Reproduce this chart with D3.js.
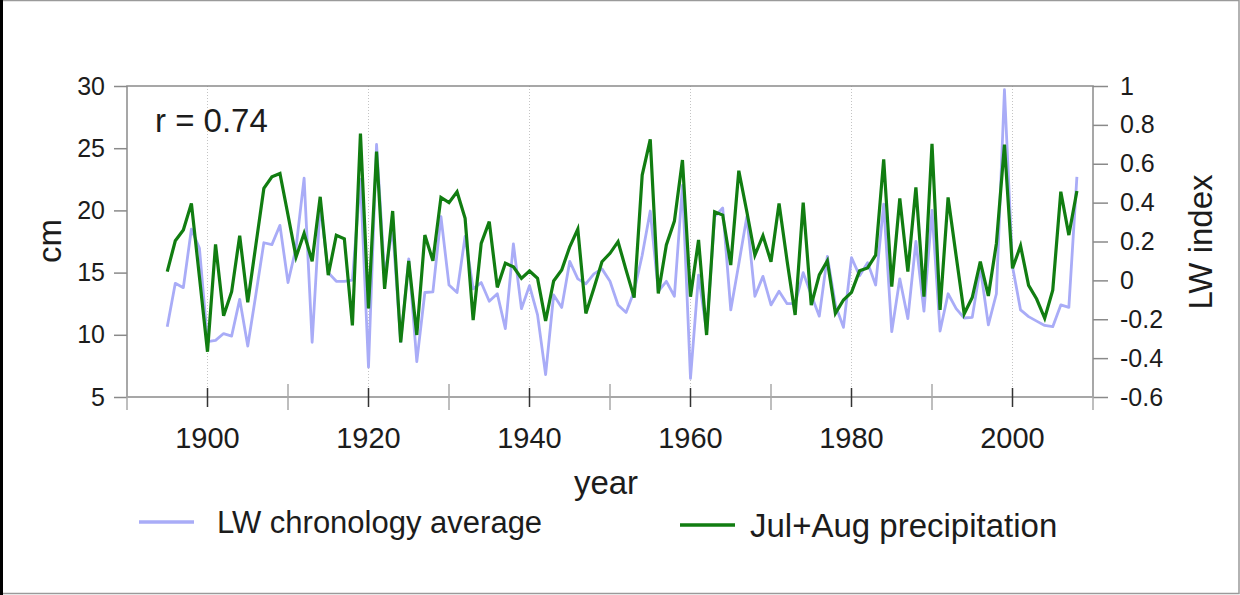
<!DOCTYPE html>
<html>
<head>
<meta charset="utf-8">
<script src="https://cdn.jsdelivr.net/npm/d3@7"></script>
<style>
  html, body { margin: 0; padding: 0; background: #fff; }
  svg { display: block; font-family: 'Liberation Sans', Arial, sans-serif; }
</style>
</head>
<body>
<svg id="chart" width="1240" height="595"></svg>
<script>
const years = d3.range(1895, 2009);

// LW chronology average (cm), 1895-2008
const lwAverage = [
  10.65, 14.14, 13.79, 18.5, 16.95, 9.45, 9.55, 10.1, 9.9, 12.85,
  9.1, 13.2, 17.4, 17.25, 18.8, 14.2, 17.0, 22.6, 9.4, 20.5,
  15.0, 14.3, 14.3, 14.4, 22.5, 7.4, 25.3, 14.8, 18.5, 9.45,
  16.1, 7.85, 13.4, 13.45, 19.5, 14.0, 13.4, 17.9, 13.7, 14.2,
  12.7, 13.3, 10.5, 17.3, 12.1, 13.95, 11.6, 6.8, 13.2, 12.2,
  15.9, 14.5, 14.1, 14.9, 15.3, 14.3, 12.4, 11.8, 13.5, 16.4,
  19.95, 13.5, 14.3, 13.1, 22.0, 6.5, 14.8, 10.25, 19.5, 20.2,
  12.0, 15.7, 19.5, 13.1, 14.7, 12.4, 13.5, 12.5, 12.5, 15.0,
  13.2, 11.5, 16.3, 12.4, 10.6, 16.2, 14.75, 15.8, 14.0, 20.5,
  10.25, 14.5, 11.3, 17.5, 11.9, 20.0, 10.3, 13.3, 12.1, 11.35,
  11.4, 15.4, 10.8, 13.3, 29.7, 15.5, 12.0, 11.46, 11.1, 10.75,
  10.65, 12.4, 12.2, 22.7
];

// Jul+Aug precipitation (right axis), 1895-2008
const precipitation = [
  0.045, 0.204, 0.259, 0.396, 0.017, -0.367, 0.185, -0.182, -0.058, 0.23,
  -0.113, 0.18, 0.473, 0.533, 0.55, 0.336, 0.12, 0.242, 0.098, 0.43,
  0.027, 0.232, 0.214, -0.232, 0.755, -0.144, 0.662, -0.044, 0.357, -0.319,
  0.1, -0.281, 0.233, 0.101, 0.427, 0.4, 0.456, 0.319, -0.204, 0.19,
  0.302, -0.036, 0.088, 0.07, 0.01, 0.048, 0.01, -0.209, -0.003, 0.053,
  0.173, 0.264, -0.17, -0.041, 0.096, 0.139, 0.199, 0.053, -0.089, 0.542,
  0.725, -0.067, 0.182, 0.305, 0.619, -0.084, 0.208, -0.281, 0.353, 0.336,
  0.079, 0.564, 0.353, 0.13, 0.23, 0.096, 0.396, 0.1, -0.178, 0.4,
  -0.127, 0.028, 0.101, -0.17, -0.101, -0.062, 0.049, 0.064, 0.13, 0.623,
  -0.032, 0.422, 0.045, 0.478, -0.084, 0.703, -0.152, 0.427, 0.125, -0.172,
  -0.088, 0.096, -0.08, 0.19, 0.698, 0.062, 0.178, -0.026, -0.096, -0.195,
  -0.05, 0.456, 0.233, 0.46
];

const leftTicks = [5, 10, 15, 20, 25, 30];
const rightTicks = [-0.6, -0.4, -0.2, 0, 0.2, 0.4, 0.6, 0.8, 1];
const majorYears = [1900, 1920, 1940, 1960, 1980, 2000];
const minorYears = [1890, 1910, 1930, 1950, 1970, 1990, 2010];

const blue = '#a9acf7';
const green = '#117d11';
const axisGray = '#8a8a8a';
const textColor = '#1c1c1c';

const svg = d3.select('#chart');

// picture frame
svg.append('rect').attr('x', 0).attr('y', 0).attr('width', 1240).attr('height', 595).attr('fill', '#fff');
svg.append('rect').attr('x', 0.5).attr('y', 0.5).attr('width', 1238.5).attr('height', 593)
  .attr('fill', 'none').attr('stroke', '#9a9a9a').attr('stroke-width', 1.5);
svg.append('rect').attr('x', 0).attr('y', 0).attr('width', 3).attr('height', 595).attr('fill', '#000');

const x = d3.scaleLinear().domain([1890, 2010]).range([127, 1093]);
const yLeft = d3.scaleLinear().domain([5, 30]).range([397, 86]);
const yRight = d3.scaleLinear().domain([-0.6, 1]).range([397, 86]);

// dotted grid at the labelled years
svg.append('g')
  .selectAll('line')
  .data(majorYears)
  .join('line')
  .attr('x1', d => x(d)).attr('x2', d => x(d))
  .attr('y1', yLeft(30)).attr('y2', yLeft(5))
  .attr('stroke', '#c4c4c4')
  .attr('stroke-width', 1)
  .attr('stroke-dasharray', '1,2');

// lines
const lwLine = d3.line().x((d, i) => x(years[i])).y(d => yLeft(d));
const prLine = d3.line().x((d, i) => x(years[i])).y(d => yRight(d));

svg.append('path')
  .datum(lwAverage)
  .attr('d', lwLine)
  .attr('fill', 'none')
  .attr('stroke', blue)
  .attr('stroke-width', 2.8)
  .attr('stroke-linejoin', 'round');

svg.append('path')
  .datum(precipitation)
  .attr('d', prLine)
  .attr('fill', 'none')
  .attr('stroke', green)
  .attr('stroke-width', 3.2)
  .attr('stroke-linejoin', 'miter');

// axis box
svg.append('rect')
  .attr('x', x(1890)).attr('y', yLeft(30))
  .attr('width', x(2010) - x(1890)).attr('height', yLeft(5) - yLeft(30))
  .attr('fill', 'none')
  .attr('stroke', axisGray)
  .attr('stroke-width', 1.5);

// left axis
svg.append('g')
  .attr('transform', `translate(${x(1890)},0)`)
  .call(d3.axisLeft(yLeft).tickValues(leftTicks).tickSize(13).tickPadding(9).tickFormat(d3.format('d')))
  .call(g => g.select('.domain').remove())
  .call(g => g.selectAll('.tick line').attr('stroke', axisGray).attr('stroke-width', 1.5))
  .call(g => g.selectAll('.tick text').attr('fill', textColor).style('font-size', '25px')
    .style('font-family', "'Liberation Sans', Arial, sans-serif"));

// right axis
svg.append('g')
  .attr('transform', `translate(${x(2010)},0)`)
  .call(d3.axisRight(yRight).tickValues(rightTicks).tickSize(15).tickPadding(12)
    .tickFormat(d => String(+d.toFixed(1))))
  .call(g => g.select('.domain').remove())
  .call(g => g.selectAll('.tick line').attr('stroke', axisGray).attr('stroke-width', 1.5))
  .call(g => g.selectAll('.tick text').attr('fill', textColor).style('font-size', '25px')
    .style('font-family', "'Liberation Sans', Arial, sans-serif"));

// bottom axis: minor ticks cross the axis, major ones are darker
svg.append('g')
  .selectAll('line')
  .data(minorYears)
  .join('line')
  .attr('x1', d => x(d)).attr('x2', d => x(d))
  .attr('y1', yLeft(5) - 13).attr('y2', yLeft(5) + 13)
  .attr('stroke', '#a8a8a8')
  .attr('stroke-width', 1.5);

svg.append('g')
  .selectAll('line')
  .data(majorYears)
  .join('line')
  .attr('x1', d => x(d)).attr('x2', d => x(d))
  .attr('y1', yLeft(5) - 9).attr('y2', yLeft(5) + 10)
  .attr('stroke', '#333')
  .attr('stroke-width', 1.5);

svg.append('g')
  .selectAll('text')
  .data(majorYears)
  .join('text')
  .attr('x', d => x(d))
  .attr('y', 448)
  .attr('text-anchor', 'middle')
  .attr('fill', textColor)
  .style('font-size', '29px')
  .text(d => d);

// titles
svg.append('text')
  .attr('x', 606).attr('y', 494)
  .attr('text-anchor', 'middle')
  .attr('fill', textColor)
  .style('font-size', '33px')
  .text('year');

svg.append('text')
  .attr('transform', 'translate(61,241) rotate(-90)')
  .attr('text-anchor', 'middle')
  .attr('fill', textColor)
  .style('font-size', '33px')
  .text('cm');

svg.append('text')
  .attr('transform', 'translate(1212,242) rotate(-90)')
  .attr('text-anchor', 'middle')
  .attr('fill', textColor)
  .style('font-size', '33px')
  .text('LW index');

svg.append('text')
  .attr('x', 155).attr('y', 132)
  .attr('fill', textColor)
  .style('font-size', '33px')
  .text('r = 0.74');

// legend
const legend = [
  { label: 'LW chronology average', color: blue, x0: 139, y0: 522, dx: 78, size: 31 },
  { label: 'Jul+Aug precipitation', color: green, x0: 680, y0: 525, dx: 70, size: 33 }
];

const lg = svg.append('g')
  .selectAll('g')
  .data(legend)
  .join('g')
  .attr('transform', d => `translate(${d.x0},${d.y0})`);

lg.append('line')
  .attr('x1', 0).attr('x2', 55)
  .attr('stroke', d => d.color)
  .attr('stroke-width', 3.4);

lg.append('text')
  .attr('x', d => d.dx)
  .attr('y', d => d.size * 0.36)
  .attr('fill', textColor)
  .style('font-size', d => d.size + 'px')
  .text(d => d.label);
</script>
</body>
</html>
